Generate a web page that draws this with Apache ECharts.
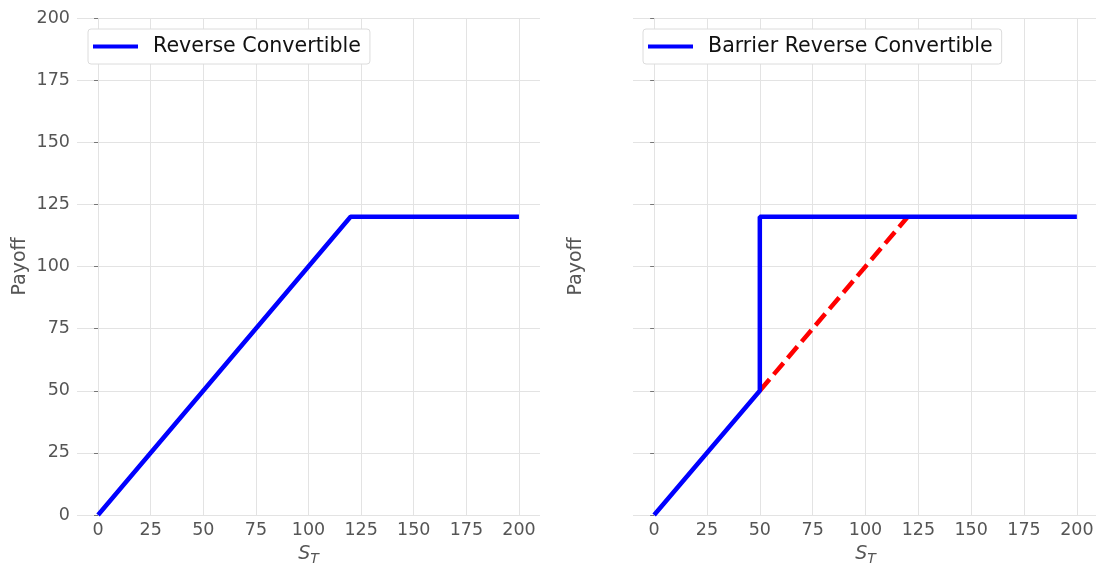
<!DOCTYPE html>
<html>
<head>
<meta charset="utf-8">
<script src="https://cdn.jsdelivr.net/npm/echarts@6/dist/echarts.min.js"></script>
<style>
  html, body { margin: 0; padding: 0; background: #fff; }
  #chart { width: 1096px; height: 564px; }
</style>
</head>
<body>
<div id="chart"></div>
<script>
var xTicks = [0, 25, 50, 75, 100, 125, 150, 175, 200];
var yTicks = [0, 25, 50, 75, 100, 125, 150, 175, 200];

// payoff points [S_T, payoff]
var reverseConvertible = [[0, 0], [120, 120], [200, 120]];
var barrierReverseConvertible = [[0, 0], [50, 50], [50, 120], [200, 120]];
var knockedInPayoff = [[50, 50], [120, 120]];

var chartDom = document.getElementById('chart');
var chart = echarts.init(chartDom);

var font = 'DejaVu Sans';
var labelColor = '#555';

function makeXAxis(gridIndex) {
  return {
    type: 'value',
    gridIndex: gridIndex,
    min: -10,
    max: 210,
    name: '{s|S}{t|T}',
    nameLocation: 'middle',
    nameGap: 27,
    nameTextStyle: {
      rich: {
        s: { fontFamily: font, fontStyle: 'italic', fontSize: 19, color: labelColor },
        t: { fontFamily: font, fontStyle: 'italic', fontSize: 14, color: labelColor, padding: [10, 0, 0, 0] }
      }
    },
    axisLine: { show: false },
    axisTick: { show: false, customValues: xTicks },
    axisLabel: {
      customValues: xTicks,
      fontFamily: font,
      fontSize: 17.5,
      color: labelColor,
      margin: 6
    },
    splitLine: { show: true, lineStyle: { color: '#e3e3e3', width: 1 } }
  };
}

function makeYAxis(gridIndex, showLabels) {
  return {
    type: 'value',
    gridIndex: gridIndex,
    min: 0,
    max: 200,
    interval: 25,
    name: 'Payoff',
    nameLocation: 'middle',
    nameGap: 47,
    nameTextStyle: { fontFamily: font, fontSize: 19, color: labelColor },
    axisLine: { show: false },
    axisTick: { show: true, length: 4, lineStyle: { color: '#777', width: 1 } },
    axisLabel: {
      show: showLabels,
      fontFamily: font,
      fontSize: 17.5,
      color: labelColor,
      margin: 7
    },
    splitLine: { show: true, lineStyle: { color: '#e3e3e3', width: 1 } }
  };
}

function makeLegend(left, name) {
  return {
    data: [name],
    left: left,
    top: 29,
    orient: 'horizontal',
    icon: 'rect',
    itemWidth: 45,
    itemHeight: 4,
    itemGap: 10,
    padding: [7, 9, 7, 5],
    backgroundColor: '#fff',
    borderColor: '#dcdcdc',
    borderWidth: 1,
    borderRadius: 3,
    textStyle: { fontFamily: font, fontSize: 20.6, color: '#111', padding: [0, 0, 0, 10] }
  };
}

var option = {
  backgroundColor: '#fff',
  animation: false,
  grid: [
    { left: 77, top: 18, width: 463, height: 497, outerBoundsMode: 'none', containLabel: false },
    { left: 633, top: 18, width: 465, height: 497, outerBoundsMode: 'none', containLabel: false }
  ],
  xAxis: [makeXAxis(0), makeXAxis(1)],
  yAxis: [makeYAxis(0, true), makeYAxis(1, false)],
  legend: [
    makeLegend(88, 'Reverse Convertible'),
    makeLegend(643, 'Barrier Reverse Convertible')
  ],
  series: [
    {
      name: 'Reverse Convertible',
      type: 'line',
      xAxisIndex: 0,
      yAxisIndex: 0,
      data: reverseConvertible,
      showSymbol: false,
      symbol: 'none',
      color: '#0000ff',
      lineStyle: { color: '#0000ff', width: 4.5 },
      z: 3
    },
    {
      name: 'Knocked-in payoff',
      type: 'line',
      xAxisIndex: 1,
      yAxisIndex: 1,
      data: knockedInPayoff,
      showSymbol: false,
      symbol: 'none',
      color: '#ff0000',
      lineStyle: { color: '#ff0000', width: 4.5, type: [15, 6.5] },
      z: 2
    },
    {
      name: 'Barrier Reverse Convertible',
      type: 'line',
      xAxisIndex: 1,
      yAxisIndex: 1,
      data: barrierReverseConvertible,
      showSymbol: false,
      symbol: 'none',
      color: '#0000ff',
      lineStyle: { color: '#0000ff', width: 4.5 },
      z: 3
    }
  ]
};

chart.setOption(option);
</script>
</body>
</html>
